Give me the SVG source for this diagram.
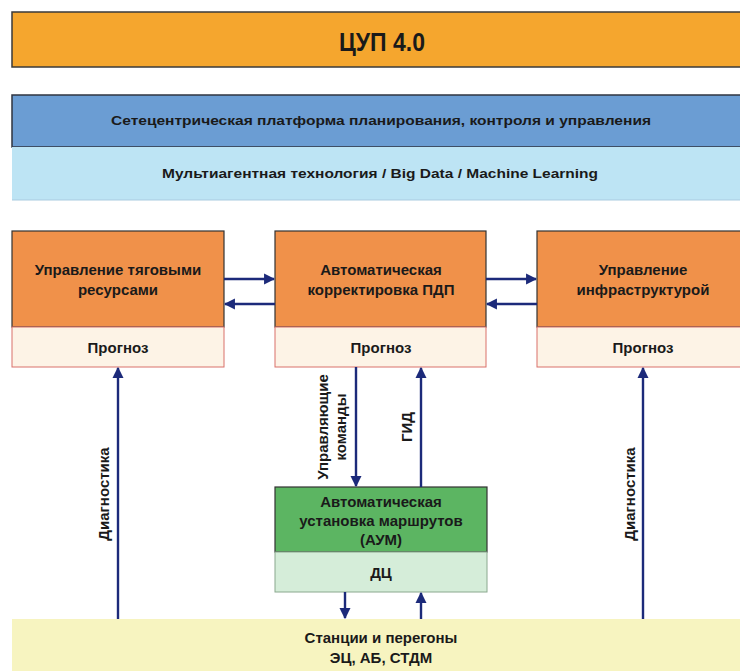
<svg xmlns="http://www.w3.org/2000/svg" width="740" height="671" viewBox="0 0 740 671">
<defs>
<marker id="ah" viewBox="0 0 10 10" refX="9" refY="5" markerWidth="4.6" markerHeight="4.6" orient="auto" markerUnits="strokeWidth">
<path d="M0,0 L10,5 L0,10 z" fill="#1c2a7a"/>
</marker>
<style>
text{font-family:"Liberation Sans",Arial,sans-serif;font-weight:bold;fill:#1a1a1a;text-anchor:middle}
.t14{font-size:15px}
.t13{font-size:13.5px}
.rot{font-size:15px}
.main{fill:#f0914a;stroke:#333;stroke-width:1.2}
.prog{fill:#fdf3e6;stroke:#d9706a;stroke-width:1}
.con{stroke:#1c2a7a;stroke-width:2.4;fill:none;marker-end:url(#ah)}
</style>
</defs>
<rect width="740" height="671" fill="#ffffff"/>
<g id="cup">
<rect x="12" y="12" width="740" height="55" fill="#f5a62e" stroke="#3a3a3a" stroke-width="1.5"/>
<text x="382" y="51" style="font-size:25px" textLength="86" lengthAdjust="spacingAndGlyphs">ЦУП 4.0</text>
</g>
<g id="platform">
<rect x="12" y="95" width="740" height="52" fill="#6b9dd3" stroke="#2f3440" stroke-width="1.5"/>
<text x="381" y="125" class="t13" textLength="540" lengthAdjust="spacingAndGlyphs">Сетецентрическая платформа планирования, контроля и управления</text>
</g>
<g id="tech">
<rect x="12" y="147" width="740" height="53" fill="#bde4f4"/>
<line x1="12" y1="200" x2="740" y2="200" stroke="#a9cbe0" stroke-width="1"/>
<text x="380" y="178" class="t13" textLength="436" lengthAdjust="spacingAndGlyphs">Мультиагентная технология / Big Data / Machine Learning</text>
</g>
<g id="traction">
<rect x="12" y="231" width="212" height="96" class="main"/>
<rect x="12" y="327" width="212" height="40" class="prog"/>
<text x="118" y="275" class="t14">Управление тяговыми</text>
<text x="118" y="295" class="t14">ресурсами</text>
<text x="118" y="353" class="t14">Прогноз</text>
</g>
<g id="pdp">
<rect x="275" y="231" width="211" height="96" class="main"/>
<rect x="275" y="327" width="211" height="40" class="prog"/>
<text x="381" y="275" class="t14">Автоматическая</text>
<text x="381" y="295" class="t14">корректировка ПДП</text>
<text x="381" y="353" class="t14">Прогноз</text>
</g>
<g id="infra">
<rect x="537" y="231" width="212" height="96" class="main"/>
<rect x="537" y="327" width="212" height="40" class="prog"/>
<text x="643" y="275" class="t14">Управление</text>
<text x="643" y="295" class="t14">инфраструктурой</text>
<text x="643" y="353" class="t14">Прогноз</text>
</g>
<g id="aum">
<rect x="275" y="487" width="212" height="65" fill="#5cb562" stroke="#333" stroke-width="1.2"/>
<rect x="275" y="552" width="212" height="40" fill="#d5edd9" stroke="#8aa88e" stroke-width="1"/>
<text x="381" y="507" class="t14">Автоматическая</text>
<text x="381" y="526" class="t14">установка маршрутов</text>
<text x="381" y="545" class="t14">(АУМ)</text>
<text x="381" y="578" class="t14">ДЦ</text>
</g>
<g id="stations">
<rect x="12" y="619" width="740" height="60" fill="#f7f4c0"/>
<text x="381" y="643" class="t14">Станции и перегоны</text>
<text x="381" y="663" class="t14">ЭЦ, АБ, СТДМ</text>
</g>
<g id="connectors">
<line x1="224" y1="279" x2="274" y2="279" class="con"/>
<line x1="275" y1="304" x2="225" y2="304" class="con"/>
<line x1="486" y1="279" x2="536" y2="279" class="con"/>
<line x1="537" y1="304" x2="487" y2="304" class="con"/>
<line x1="118" y1="619" x2="118" y2="368" class="con"/>
<line x1="643" y1="619" x2="643" y2="368" class="con"/>
<line x1="356" y1="367" x2="356" y2="486" class="con"/>
<line x1="421" y1="487" x2="421" y2="368" class="con"/>
<line x1="345" y1="592" x2="345" y2="618" class="con"/>
<line x1="421" y1="619" x2="421" y2="593" class="con"/>
<text transform="translate(109,494) rotate(-90)" class="rot">Диагностика</text>
<text transform="translate(635,494) rotate(-90)" class="rot">Диагностика</text>
<text transform="translate(328,427) rotate(-90)" class="rot">Управляющие</text>
<text transform="translate(346,427) rotate(-90)" class="rot">команды</text>
<text transform="translate(412,427) rotate(-90)" class="rot">ГИД</text>
</g>
</svg>
